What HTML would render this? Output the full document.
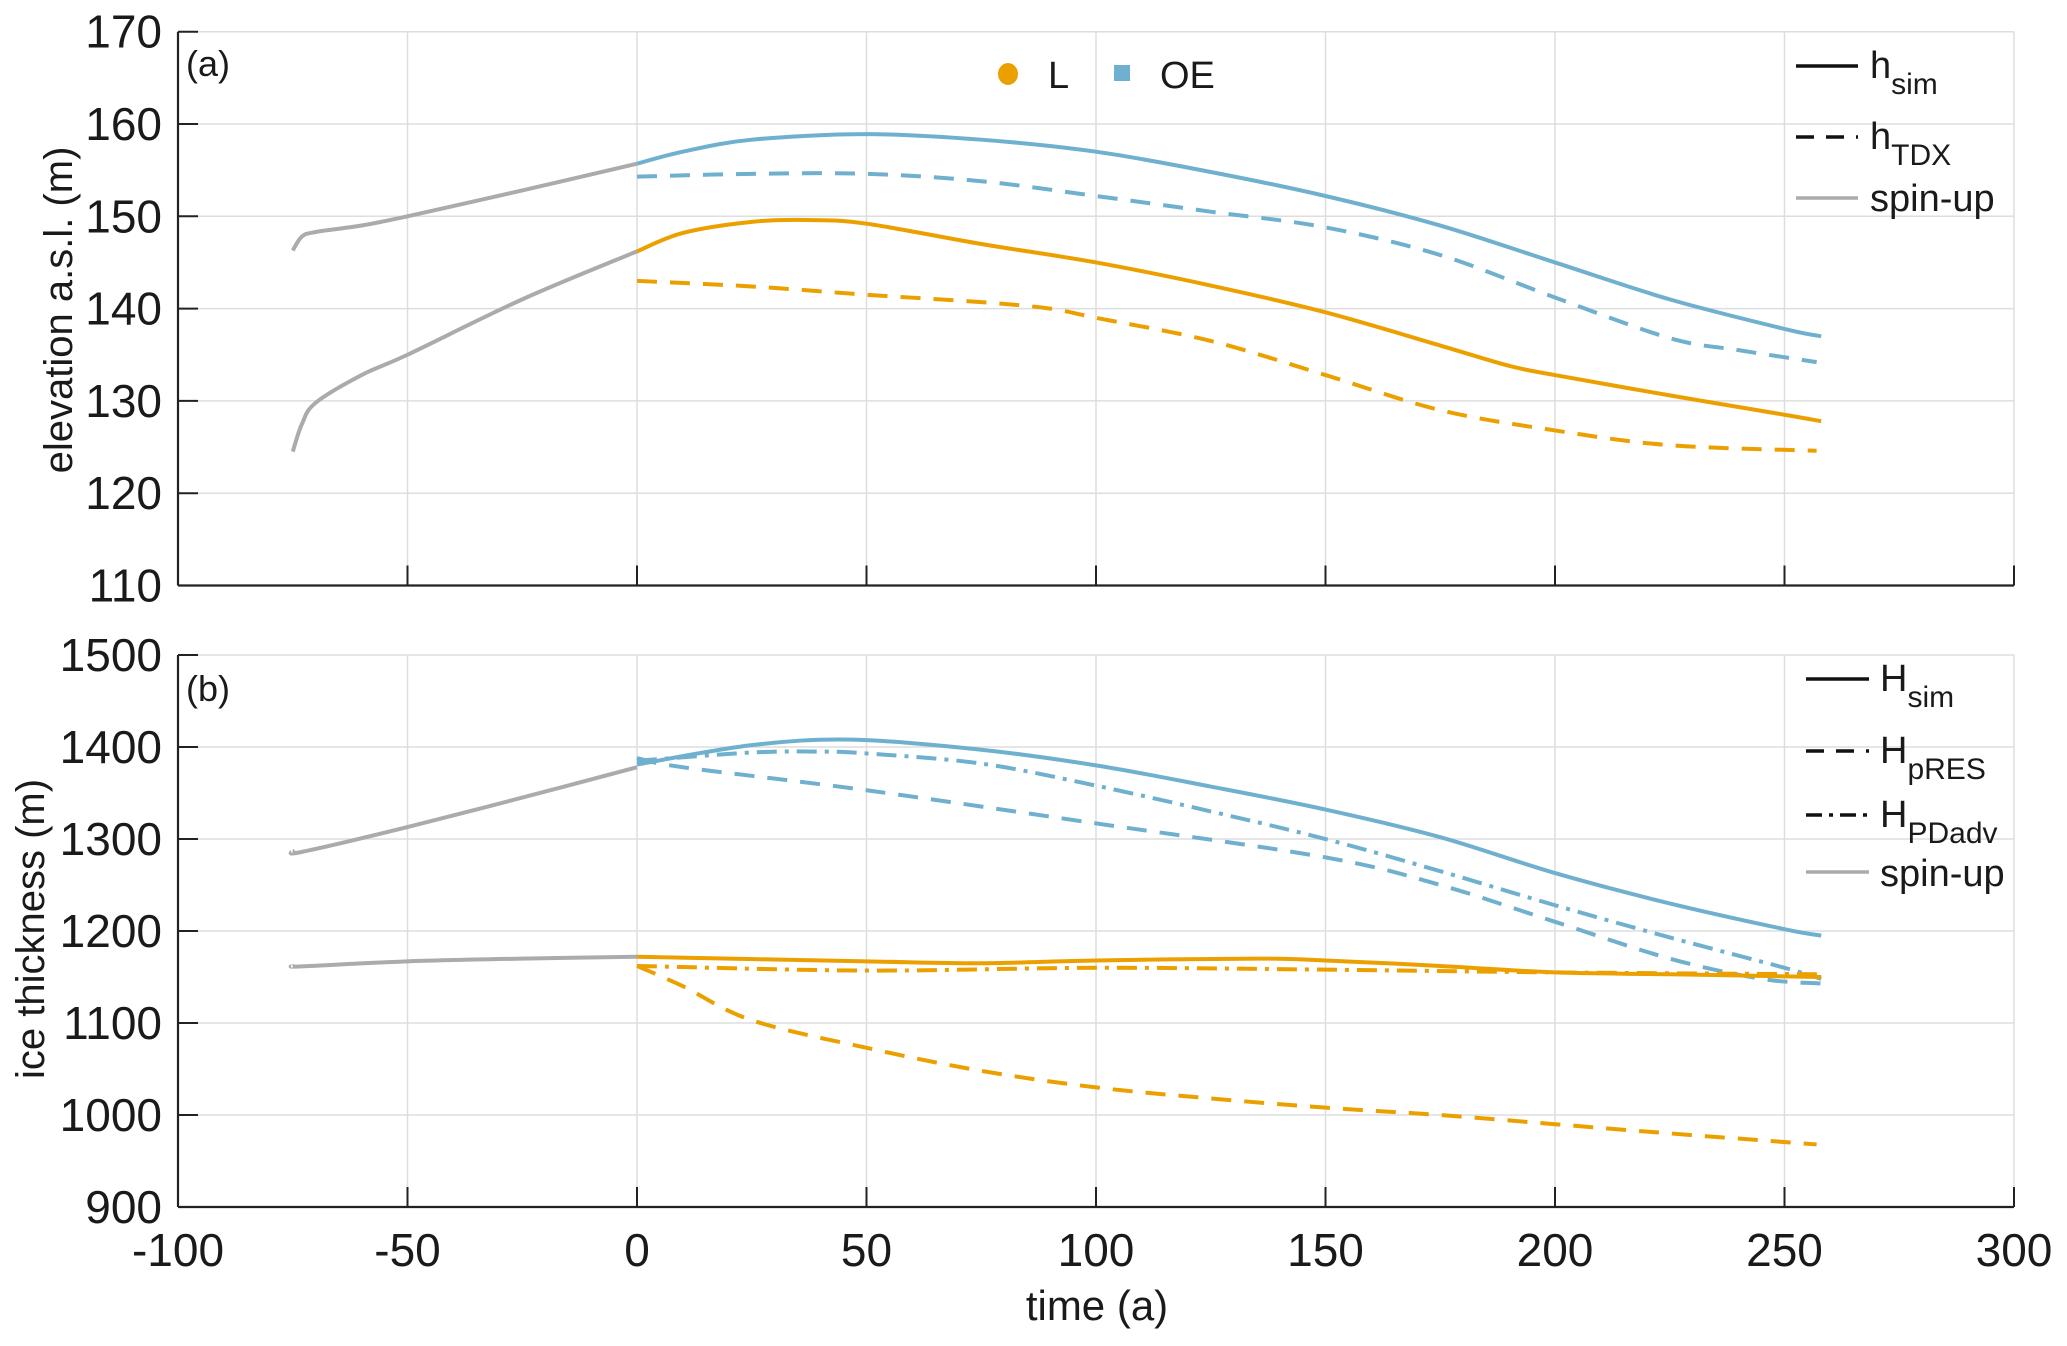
<!DOCTYPE html>
<html><head><meta charset="utf-8"><style>
body{margin:0;background:#fff}
svg{display:block;font-family:"Liberation Sans",Arial,sans-serif}
</style></head><body>
<svg id="chart" width="2067" height="1346" viewBox="0 0 2067 1346" xmlns="http://www.w3.org/2000/svg"></svg>
<script>
// ---- data ----
const xTicks = [-100,-50,0,50,100,150,200,250,300];
const topTicks = [110,120,130,140,150,160,170];
const botTicks = [900,1000,1100,1200,1300,1400,1500];

const topSpinL_t = [-75,-73,-70,-60,-50,-25,0];
const topSpinL_v = [124.5,127.5,129.8,132.8,135,141,146.2];
const topSpinOE_t = [-75,-73,-70,-60,-50,-25,0];
const topSpinOE_v = [146.3,147.8,148.3,149,150,152.8,155.7];
const topSimOE_t = [0,10,25,50,75,100,125,150,175,200,225,250,258];
const topSimOE_v = [155.7,157,158.3,158.9,158.3,157,154.8,152.2,149,145,141,137.8,137];
const topTdxOE_t = [0,25,50,75,100,125,150,175,200,225,240,257];
const topTdxOE_v = [154.3,154.6,154.6,153.8,152.2,150.5,148.8,145.8,141.2,136.8,135.5,134.2];
const topSimL_t = [0,10,25,37,50,75,100,125,150,175,190,200,225,250,258];
const topSimL_v = [146.2,148.2,149.4,149.6,149.2,147,145,142.5,139.6,136,133.8,132.8,130.6,128.5,127.8];
const topTdxL_t = [0,25,50,75,90,100,125,150,175,200,225,257];
const topTdxL_v = [143,142.4,141.5,140.7,140,139,136.5,132.8,129,126.8,125.2,124.6];

const botSpinOE_t = [-75,-73,-50,-25,0];
const botSpinOE_v = [1287,1286,1313,1345,1378];
const botSpinL_t = [-75,-73,-50,-25,0];
const botSpinL_v = [1162,1161.5,1167,1170,1172];
const botSimOE_t = [0,25,47,75,100,125,150,175,200,225,250,258];
const botSimOE_v = [1381,1402,1408,1397,1380,1357,1332,1302,1263,1230,1202,1195];
const botResOE_t = [0,10,50,100,150,175,200,225,245,258];
const botResOE_v = [1388,1378,1353,1317,1280,1250,1210,1170,1148,1143];
const botPdOE_t = [0,25,40,50,75,100,125,150,175,200,225,250,258];
const botPdOE_v = [1385,1394,1395,1393,1382,1358,1330,1300,1265,1228,1193,1160,1148];
const botSimL_t = [0,50,75,100,135,150,175,200,225,258];
const botSimL_v = [1172,1167,1165,1168,1170,1168,1162,1155,1153,1150];
const botPdL_t = [0,50,100,150,200,258];
const botPdL_v = [1162,1157,1160,1158,1155,1153];
const botResL_t = [0,10,25,50,75,100,125,150,175,200,225,257];
const botResL_v = [1162,1140,1103,1073,1048,1030,1018,1008,1000,990,980,968];

// ---- layout ----
const X0=178, X1=2014;
const T={y0:585.5,y1:31.7,min:110,max:170};
const B={y0:1207,y1:655,min:900,max:1500};
const xs=t=>X0+(t+100)/400*(X1-X0);
const ys=(p,v)=>p.y0+(v-p.min)/(p.max-p.min)*(p.y1-p.y0);
const ORANGE="#EBA000", BLUE="#6FB0CE", GRAY="#ABABAB";
const svg=document.getElementById('chart');
const NS="http://www.w3.org/2000/svg";
function mk(tag,attrs,parent){const e=document.createElementNS(NS,tag);for(const k in attrs)e.setAttribute(k,attrs[k]);(parent||svg).appendChild(e);return e;}
function txt(s,x,y,size,anchor,parent){const e=mk('text',{x:x,y:y,'font-size':size,'text-anchor':anchor||'start',fill:'#1a1a1a'},parent);e.textContent=s;return e;}

function smooth(pts){
  let d=`M${pts[0][0]},${pts[0][1]}`;
  for(let i=0;i<pts.length-1;i++){
    const p0=pts[Math.max(0,i-1)],p1=pts[i],p2=pts[i+1],p3=pts[Math.min(pts.length-1,i+2)];
    const c1x=p1[0]+(p2[0]-p0[0])/6,c1y=p1[1]+(p2[1]-p0[1])/6;
    const c2x=p2[0]-(p3[0]-p1[0])/6,c2y=p2[1]-(p3[1]-p1[1])/6;
    d+=` C${c1x},${c1y} ${c2x},${c2y} ${p2[0]},${p2[1]}`;
  }
  return d;
}
function series(p,tArr,vArr,color,dash,name,w){
  const pts=tArr.map((t,i)=>[xs(t),ys(p,vArr[i])]);
  const e=mk('path',{d:smooth(pts),fill:'none',stroke:color,'stroke-width':w||4,'stroke-dasharray':dash||'none','stroke-linejoin':'round'});
  
  
}
function panel(p,ticks,name){
  const g=mk('g',{});
  
  
  ticks.forEach(v=>{const y=ys(p,v);
    mk('line',{x1:X0,x2:X1,y1:y,y2:y,stroke:'#dedede','stroke-width':1.5},g);
    mk('line',{x1:X0,x2:X0+20,y1:y,y2:y,stroke:'#222','stroke-width':2},g);
    txt(String(v),162,y+16,46,'end',g);});
  xTicks.forEach(t=>{const x=xs(t);
    mk('line',{x1:x,x2:x,y1:p.y0,y2:p.y1,stroke:'#dedede','stroke-width':1.5},g);
    mk('line',{x1:x,x2:x,y1:p.y0,y2:p.y0-20,stroke:'#222','stroke-width':2},g);});
  mk('line',{x1:X0,x2:X0,y1:p.y0,y2:p.y1,stroke:'#222','stroke-width':2.2},g);
  mk('line',{x1:X0,x2:X1,y1:p.y0,y2:p.y0,stroke:'#222','stroke-width':2.2},g);
}
panel(T,topTicks,'top-panel-axes');
panel(B,botTicks,'bottom-panel-axes');
xTicks.forEach(t=>{const e=txt(String(t),xs(t),1266,46,'middle');
  
  });

// series top
series(T,topSpinL_t,topSpinL_v,GRAY,null,'top-spinup-L');
series(T,topSpinOE_t,topSpinOE_v,GRAY,null,'top-spinup-OE');
series(T,topSimOE_t,topSimOE_v,BLUE,null,'top-hsim-OE');
series(T,topTdxOE_t,topTdxOE_v,BLUE,'20 13','top-htdx-OE');
series(T,topSimL_t,topSimL_v,ORANGE,null,'top-hsim-L');
series(T,topTdxL_t,topTdxL_v,ORANGE,'20 13','top-htdx-L');
// series bottom
series(B,botSpinOE_t,botSpinOE_v,GRAY,null,'bottom-spinup-OE');
series(B,botSpinL_t,botSpinL_v,GRAY,null,'bottom-spinup-L');
series(B,botSimOE_t,botSimOE_v,BLUE,null,'bottom-Hsim-OE');
series(B,botResOE_t,botResOE_v,BLUE,'20 13','bottom-HpRES-OE');
series(B,botPdOE_t,botPdOE_v,BLUE,'20 8 4 8','bottom-HPDadv-OE');
series(B,botResL_t,botResL_v,ORANGE,'20 13','bottom-HpRES-L');
series(B,botPdL_t,botPdL_v,ORANGE,'20 8 4 8','bottom-HPDadv-L');
series(B,botSimL_t,botSimL_v,ORANGE,null,'bottom-Hsim-L');
</script>
<svg width="2067" height="1346" style="position:absolute;left:0;top:0" font-family="Liberation Sans, Arial, sans-serif" fill="#1a1a1a">
  <text x="186" y="76" font-size="36">(a)</text>
  <text x="186" y="701" font-size="36">(b)</text>
  <text transform="translate(72,310) rotate(-90)" font-size="40" text-anchor="middle">elevation a.s.l. (m)</text>
  <text transform="translate(44,929) rotate(-90)" font-size="40" text-anchor="middle">ice thickness (m)</text>
  <text x="1097" y="1320" font-size="42" text-anchor="middle">time (a)</text>
  <g>
    <ellipse cx="1008" cy="74" rx="10" ry="11" fill="#EBA000"/>
    <text x="1048" y="88" font-size="38">L</text>
    <rect x="1114" y="65" width="16" height="16" fill="#6FB0CE"/>
    <text x="1160" y="88" font-size="38">OE</text>
  </g>
  <g font-size="38">
    <line x1="1796" x2="1858" y1="66" y2="66" stroke="#111" stroke-width="3.5"/>
    <text x="1870" y="78">h<tspan font-size="30" dy="16">sim</tspan></text>
    <line x1="1796" x2="1858" y1="137" y2="137" stroke="#111" stroke-width="3.5" stroke-dasharray="18 12"/>
    <text x="1870" y="149">h<tspan font-size="30" dy="16">TDX</tspan></text>
    <line x1="1796" x2="1858" y1="198" y2="198" stroke="#ABABAB" stroke-width="3.5"/>
    <text x="1870" y="211">spin-up</text>
  </g>
  <g font-size="38">
    <line x1="1806" x2="1869" y1="679" y2="679" stroke="#111" stroke-width="3.5"/>
    <text x="1880" y="691">H<tspan font-size="30" dy="16">sim</tspan></text>
    <line x1="1806" x2="1869" y1="751" y2="751" stroke="#111" stroke-width="3.5" stroke-dasharray="18 12"/>
    <text x="1880" y="763">H<tspan font-size="30" dy="16">pRES</tspan></text>
    <line x1="1806" x2="1869" y1="815" y2="815" stroke="#111" stroke-width="3.5" stroke-dasharray="16 7 4 7"/>
    <text x="1880" y="827">H<tspan font-size="30" dy="16">PDadv</tspan></text>
    <line x1="1806" x2="1869" y1="872" y2="872" stroke="#ABABAB" stroke-width="3.5"/>
    <text x="1880" y="886">spin-up</text>
  </g>
</svg>
</body></html>
